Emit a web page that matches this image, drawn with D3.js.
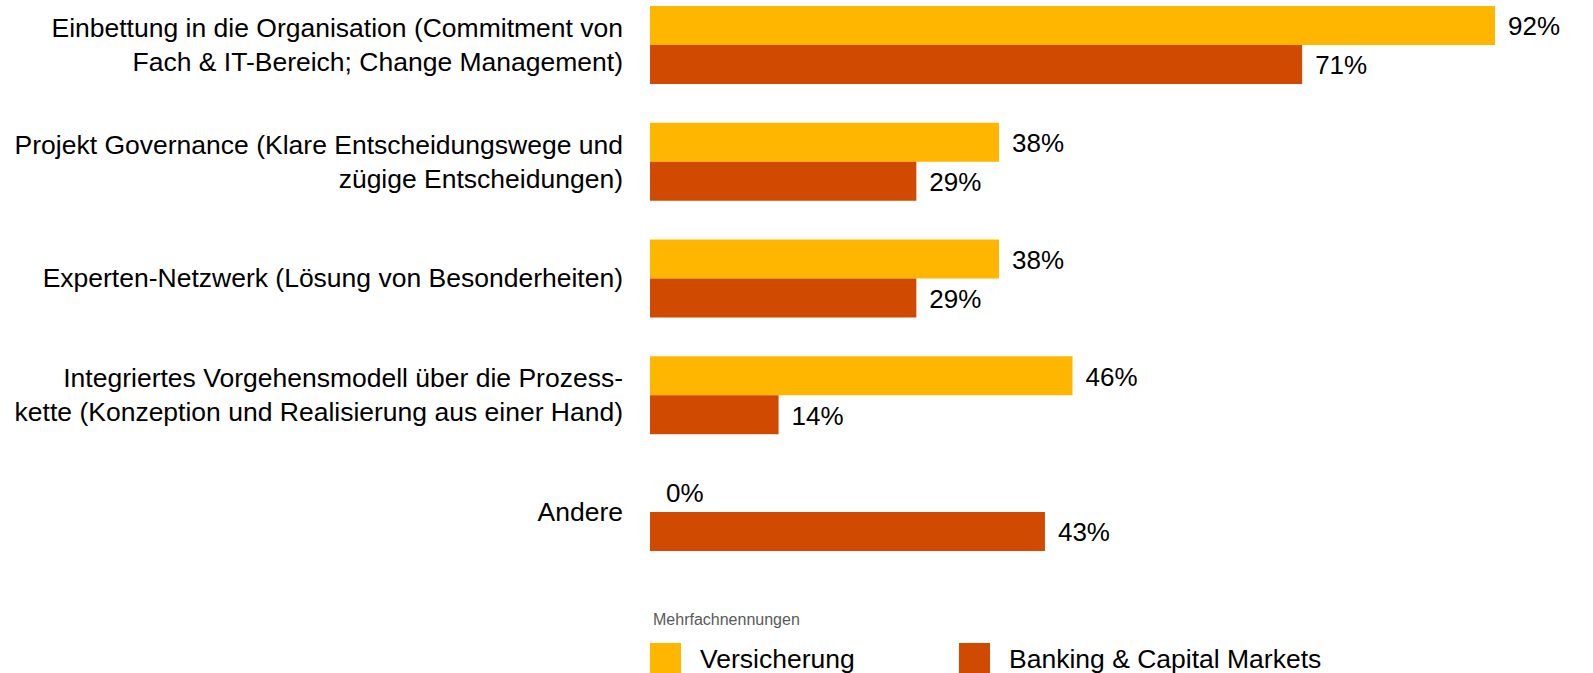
<!DOCTYPE html>
<html>
<head>
<meta charset="utf-8">
<script src="https://cdn.jsdelivr.net/npm/d3@7"></script>
<style>
  body { margin: 0; background: #fff; }
  svg { display: block; font-family: Arial, "Liberation Sans", sans-serif; }
</style>
</head>
<body>
<div id="chart"></div>
<script>
// Categories (each entry is the list of label lines)
const categories = [
    ["Einbettung in die Organisation (Commitment von", "Fach & IT-Bereich; Change Management)"],
    ["Projekt Governance (Klare Entscheidungswege und", "zügige Entscheidungen)"],
    ["Experten-Netzwerk (Lösung von Besonderheiten)"],
    ["Integriertes Vorgehensmodell über die Prozess-", "kette (Konzeption und Realisierung aus einer Hand)"],
    ["Andere"]
];
const seriesNames = ["Versicherung", "Banking & Capital Markets"];
const versicherung = [92, 38, 38, 46, 0];
const banking = [71, 29, 29, 14, 43];
const note = "Mehrfachnennungen";

const colors = ["#FFB600", "#D04A02"];
const width = 1593, height = 673;

const svg = d3.select("#chart")
    .append("svg")
    .attr("width", width)
    .attr("height", height);

const keys = categories.map((c, i) => i);

// Scales
const x = d3.scaleLinear().domain([0, 100]).range([650, 1568.5]);
const y = d3.scaleBand().domain(keys).range([6, 551]).paddingInner(0.332).paddingOuter(0);
const ySub = d3.scaleBand().domain([0, 1]).range([0, y.bandwidth()]);

const rows = keys.map(i => ({ i, values: [versicherung[i], banking[i]] }));

const group = svg.append("g")
    .selectAll("g.group")
    .data(rows)
    .join("g")
    .attr("class", "group")
    .attr("transform", d => `translate(0,${y(d.i)})`);

// Bars
group.selectAll("rect")
    .data(d => d.values.map((v, s) => ({ v, s })))
    .join("rect")
    .attr("x", x(0))
    .attr("y", d => ySub(d.s))
    .attr("width", d => x(d.v) - x(0))
    .attr("height", ySub.bandwidth())
    .attr("fill", d => colors[d.s]);

// Value labels
group.selectAll("text.value")
    .data(d => d.values.map((v, s) => ({ v, s })))
    .join("text")
    .attr("class", "value")
    .attr("x", d => x(d.v) + (d.v === 0 ? 16 : 13))
    .attr("y", d => ySub(d.s) + ySub.bandwidth() / 2 + 10)
    .attr("font-size", 26)
    .attr("fill", "#000")
    .text(d => d.v + "%");

// Category labels
const lineH = 34;
group.append("text")
    .attr("class", "cat")
    .attr("text-anchor", "end")
    .attr("font-size", 26.5)
    .attr("fill", "#000")
    .selectAll("tspan")
    .data(d => categories[d.i].map((line, k, arr) => ({ line, k, n: arr.length })))
    .join("tspan")
    .attr("x", 623)
    .attr("y", d => y.bandwidth() / 2 + 9 + (d.k - (d.n - 1) / 2) * lineH)
    .text(d => d.line);

// Note
svg.append("text")
    .attr("x", 653)
    .attr("y", 625)
    .attr("font-size", 16)
    .attr("fill", "#595959")
    .text(note);

// Legend
const legendX = [650, 959];
const legend = svg.append("g")
    .selectAll("g")
    .data(seriesNames)
    .join("g")
    .attr("transform", (d, i) => `translate(${legendX[i]},643)`);

legend.append("rect")
    .attr("width", 31)
    .attr("height", 31)
    .attr("fill", (d, i) => colors[i]);

legend.append("text")
    .attr("x", 50)
    .attr("y", 25)
    .attr("font-size", 26.5)
    .attr("fill", "#000")
    .text(d => d);
</script>
</body>
</html>
